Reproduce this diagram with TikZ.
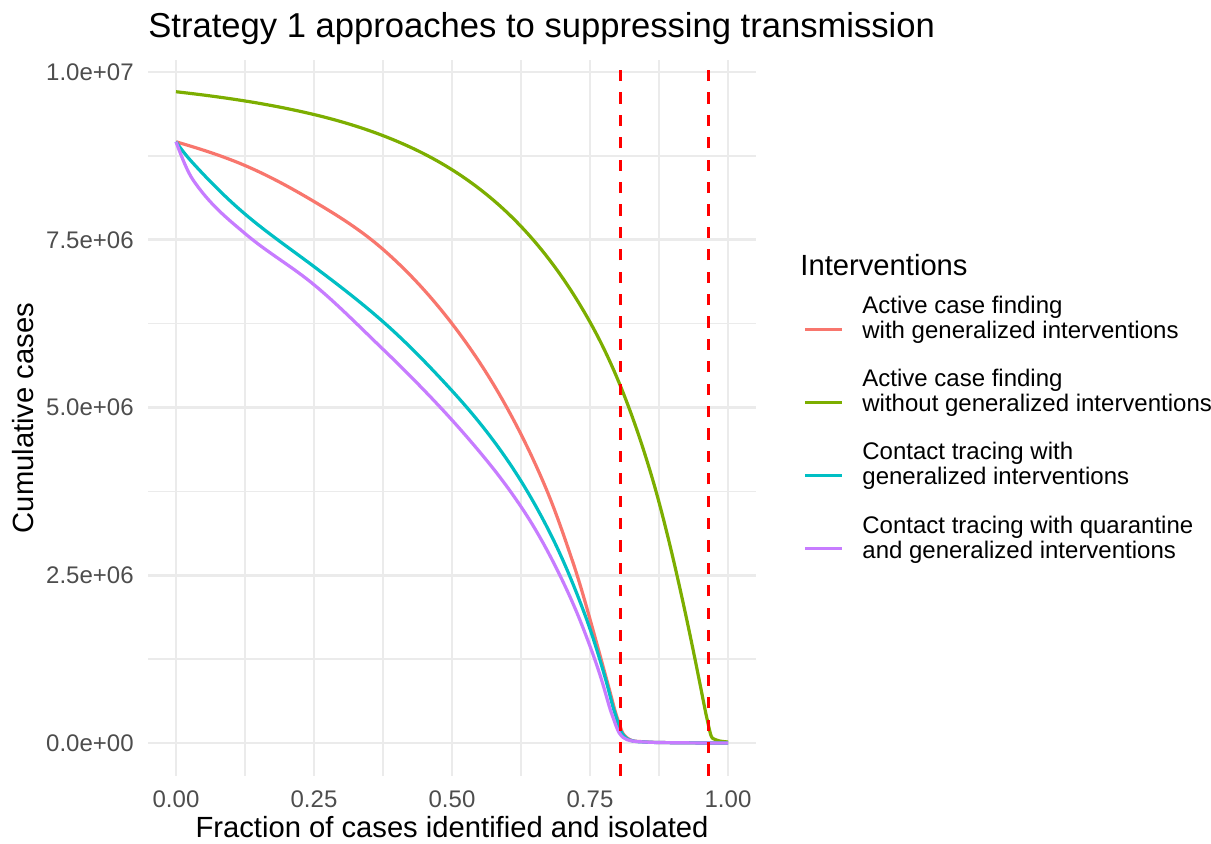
\documentclass[tikz,border=0pt]{standalone}
\usepackage{fontspec}
\setmainfont{Liberation Sans}
\definecolor{gridgrey}{RGB}{235,235,235}
\definecolor{ticktext}{RGB}{77,77,77}
\definecolor{cacfgen}{HTML}{F8766D}
\definecolor{cacfnogen}{HTML}{7CAE00}
\definecolor{ctrgen}{HTML}{00BFC4}
\definecolor{ctrquar}{HTML}{C77CFF}
\definecolor{cutoff}{RGB}{255,0,0}

\begin{document}
\begin{tikzpicture}[x=0.5pt, y=-0.5pt,
    majgrid/.style={draw=gridgrey, line width=1.4pt},
    mingrid/.style={draw=gridgrey, line width=0.7pt},
    curve/.style={line width=1.6pt, line join=round},
    cutline/.style={draw=cutoff, line width=1.5pt, dash pattern=on 5.6pt off 5.6pt},
    ticklab/.style={inner sep=0pt, text=ticktext, font=\fontsize{12}{14}\selectfont},
    axtitle/.style={inner sep=0pt, font=\fontsize{14.6}{17}\selectfont},
    legtext/.style={inner sep=0pt, anchor=base west, font=\fontsize{12}{14}\selectfont}]
  \useasboundingbox (0,0) rectangle (1211,843);

  % panel in data units (x: fraction, y: millions of cases)
  \begin{scope}[shift={(176,743)}, x=276pt, y=33.55pt]
    \foreach \gx in {0.125,0.375,0.625,0.875}
      \draw[mingrid] (\gx,-0.485) -- (\gx,10.185);
    \foreach \gy in {1.25,3.75,6.25,8.75}
      \draw[mingrid] (-0.0507,\gy) -- (1.0507,\gy);
    \foreach \gx in {0,0.25,0.5,0.75,1}
      \draw[majgrid] (\gx,-0.485) -- (\gx,10.185);
    \foreach \gy in {0,2.5,5,7.5,10}
      \draw[majgrid] (-0.0507,\gy) -- (1.0507,\gy);

    % curves: points x/y/slope joined by cubic pieces
    \draw[curve, cacfgen] (0,8.96)
      \foreach \xb/\yb/\sb [remember=\xb as \xa (initially 0),
                            remember=\yb as \ya (initially 8.96),
                            remember=\sb as \sa (initially -2.4)] in
        {0.124/8.61/-3.5, 0.25/8.07/-4.9, 0.376/7.35/-7.2, 0.5/6.25/-10.7,
         0.6/4.99/-14.9, 0.67/3.80/-19.5, 0.72/2.67/-24.5, 0.76/1.55/-29.5,
         0.785/0.8/-30, 0.8/0.36/-22, 0.81/0.14/-12, 0.822/0.05/-4,
         0.845/0.02/-0.7, 0.9/0.005/-0.1, 1/0/0}
        { .. controls ({\xa+(\xb-\xa)/3},{\ya+(\sa)*(\xb-\xa)/3})
             and ({\xb-(\xb-\xa)/3},{\yb-(\sb)*(\xb-\xa)/3}) .. (\xb,\yb) };
    \draw[curve, cacfnogen] (0,9.706)
      \foreach \xb/\yb/\sb [remember=\xb as \xa (initially 0),
                            remember=\yb as \ya (initially 9.706),
                            remember=\sb as \sa (initially -0.93)] in
        {0.2/9.457/-1.673, 0.4/8.969/-3.469, 0.55/8.257/-6.338,
         0.65/7.471/-9.619, 0.75/6.273/-14.71, 0.85/4.29/-26,
         0.872/3.68/-30, 0.907/2.52/-36, 0.937/1.38/-40, 0.955/0.64/-42,
         0.962/0.36/-36, 0.972/0.07/-4, 0.985/0.03/-1.5, 1/0.015/-0.5}
        { .. controls ({\xa+(\xb-\xa)/3},{\ya+(\sa)*(\xb-\xa)/3})
             and ({\xb-(\xb-\xa)/3},{\yb-(\sb)*(\xb-\xa)/3}) .. (\xb,\yb) };
    \draw[curve, ctrgen] (0,8.96)
      \foreach \xb/\yb/\sb [remember=\xb as \xa (initially 0),
                            remember=\yb as \ya (initially 8.96),
                            remember=\sb as \sa (initially -12)] in
        {0.031/8.64/-9, 0.124/7.89/-7, 0.25/7.10/-6.2, 0.379/6.25/-7.3,
         0.5/5.25/-9.0, 0.6/4.22/-12, 0.68/3.09/-16.5, 0.74/1.93/-22,
         0.78/0.9/-29, 0.795/0.45/-24, 0.807/0.16/-14, 0.82/0.05/-3.5,
         0.85/0.015/-0.5, 0.9/0.005/-0.1, 1/0/0}
        { .. controls ({\xa+(\xb-\xa)/3},{\ya+(\sa)*(\xb-\xa)/3})
             and ({\xb-(\xb-\xa)/3},{\yb-(\sb)*(\xb-\xa)/3}) .. (\xb,\yb) };
    \draw[curve, ctrquar] (0,8.96)
      \foreach \xb/\yb/\sb [remember=\xb as \xa (initially 0),
                            remember=\yb as \ya (initially 8.96),
                            remember=\sb as \sa (initially -22)] in
        {0.031/8.39/-12, 0.124/7.60/-7, 0.25/6.83/-6.8, 0.376/5.86/-7.9,
         0.478/5.01/-8.8, 0.56/4.24/-10, 0.63/3.46/-12.5, 0.69/2.59/-16.5,
         0.74/1.66/-21.5, 0.775/0.83/-28, 0.79/0.42/-22, 0.803/0.15/-13,
         0.817/0.05/-3, 0.85/0.015/-0.5, 0.9/0.005/-0.1, 1/0/0}
        { .. controls ({\xa+(\xb-\xa)/3},{\ya+(\sa)*(\xb-\xa)/3})
             and ({\xb-(\xb-\xa)/3},{\yb-(\sb)*(\xb-\xa)/3}) .. (\xb,\yb) };

    % cut-offs
    \draw[cutline] (0.805,-0.485) -- (0.805,10.185);
    \draw[cutline] (0.964,-0.485) -- (0.964,10.185);

    % tick labels
    \foreach \v/\t [count=\i] in {0/0.0e+00,2.5/2.5e+06,5/5.0e+06,7.5/7.5e+06,10/1.0e+07}
      \node[ticklab, anchor=east] (ytick\i) at (-0.076,\v) {\t};
    \foreach \v/\t [count=\i] in {0/0.00,0.25/0.25,0.5/0.50,0.75/0.75,1/1.00}
      \node[ticklab] (xtick\i) at (\v,-0.835) {\t};
  \end{scope}

  % titles
  \node[inner sep=0pt, anchor=base west, font=\fontsize{17.3}{20}\selectfont] (title)
    at (148,37.5) {Strategy 1 approaches to suppressing transmission};
  \node[axtitle, anchor=base] (xlab) at (452,837) {Fraction of cases identified and isolated};
  \node[axtitle, anchor=base, rotate=90] (ylab) at (33,418) {Cumulative cases};

  % legend
  \node[axtitle, anchor=base west] (legtitle) at (800,275) {Interventions};
  \foreach \col/\ky/\la/\lb [count=\i] in {
      cacfgen/329/Active case finding/with generalized interventions,
      cacfnogen/402.3/Active case finding/without generalized interventions,
      ctrgen/475.3/Contact tracing with/generalized interventions,
      ctrquar/548.7/Contact tracing with quarantine/and generalized interventions} {
    \coordinate (key\i w) at (805,\ky);
    \coordinate (key\i e) at (842,\ky);
    \draw[\col, line width=1.5pt] (key\i w) -- (key\i e);
    \node[legtext] (leg\i a) at (862,\ky-15.7) {\la};
    \node[legtext] (leg\i b) at (862,\ky+9.3) {\lb};
  }
\end{tikzpicture}
\end{document}
